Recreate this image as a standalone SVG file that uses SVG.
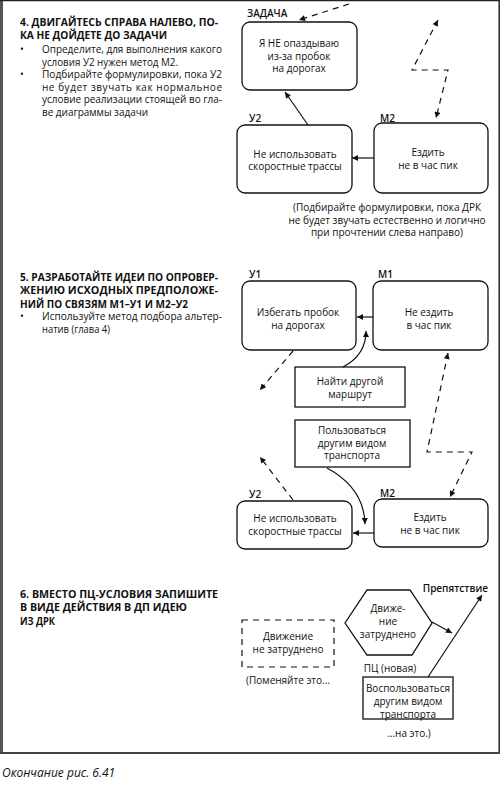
<svg xmlns="http://www.w3.org/2000/svg" width="500" height="786" viewBox="0 0 500 786">
<style>
.t{font-family:"Open Sans","Noto Sans","DejaVu Sans",sans-serif;font-size:10px;fill:#111}
.h{font-family:"Open Sans","Noto Sans","DejaVu Sans",sans-serif;font-size:10.8px;font-weight:bold;fill:#111}
.l{font-family:"Open Sans","Noto Sans","DejaVu Sans",sans-serif;font-size:10px;font-weight:600;fill:#111}
.c{text-anchor:middle}
.box{fill:#fff;stroke:#111;stroke-width:1.3}
.ln{fill:none;stroke:#111;stroke-width:1.2}
.ds{fill:none;stroke:#111;stroke-width:1.2;stroke-dasharray:6 5}
</style>
<defs>
<marker id="ah" viewBox="0 0 10 10" refX="10" refY="5" markerWidth="8" markerHeight="6" markerUnits="userSpaceOnUse" orient="auto-start-reverse">
<path d="M0,0 L10,5 L0,10 z" fill="#111"/>
</marker>
</defs>
<rect width="500" height="786" fill="#fff"/>
<g id="frame">
<rect x="0" y="0" width="3" height="754" fill="#555"/>
<line x1="0" y1="0.6" x2="500" y2="0.6" stroke="#222" stroke-width="1.2"/>
<line x1="499.2" y1="0" x2="499.2" y2="754" stroke="#333" stroke-width="1.6"/>
<line x1="0" y1="753" x2="500" y2="753" stroke="#444" stroke-width="2"/>
</g>
<g id="text4">
<text class="h" x="20" y="25.5" textLength="198" lengthAdjust="spacingAndGlyphs">4. ДВИГАЙТЕСЬ СПРАВА НАЛЕВО, ПО-</text>
<text class="h" x="20" y="39" textLength="147" lengthAdjust="spacingAndGlyphs">КА НЕ ДОЙДЕТЕ ДО ЗАДАЧИ</text>
<text class="t" x="20" y="53">•</text>
<text class="t" x="42" y="53" textLength="180" lengthAdjust="spacingAndGlyphs">Определите, для выполнения какого</text>
<text class="t" x="42" y="65.5" textLength="136" lengthAdjust="spacingAndGlyphs">условия У2 нужен метод М2.</text>
<text class="t" x="20" y="78">•</text>
<text class="t" x="42" y="78" textLength="180" lengthAdjust="spacingAndGlyphs">Подбирайте формулировки, пока У2</text>
<text class="t" x="42" y="90.5" textLength="180" lengthAdjust="spacing">не будет звучать как нормальное</text>
<text class="t" x="42" y="103" textLength="180" lengthAdjust="spacingAndGlyphs">условие реализации стоящей во гла-</text>
<text class="t" x="42" y="115.5" textLength="106" lengthAdjust="spacingAndGlyphs">ве диаграммы задачи</text>
</g>
<g id="n4-task">
<text class="l" x="247" y="17">ЗАДАЧА</text>
<rect class="box" x="242" y="22" width="115" height="68" rx="8"/>
<text class="t c" x="299" y="47">Я НЕ опаздываю</text>
<text class="t c" x="299" y="59.5">из-за пробок</text>
<text class="t c" x="299" y="72">на дорогах</text>
</g>
<g id="n4-y2">
<text class="l" x="249" y="122">У2</text>
<rect class="box" x="237" y="125" width="115" height="68" rx="8"/>
<text class="t c" x="295" y="157.5">Не использовать</text>
<text class="t c" x="295" y="170">скоростные трассы</text>
</g>
<g id="n4-m2">
<text class="l" x="380" y="122">М2</text>
<rect class="box" x="374" y="123" width="114" height="70" rx="8"/>
<text class="t c" x="428" y="156">Ездить</text>
<text class="t c" x="428" y="168.5">не в час пик</text>
</g>
<g id="cap4">
<text class="t c" x="387" y="211">(Подбирайте формулировки, пока ДРК</text>
<text class="t c" x="387" y="223.5">не будет звучать естественно и логично</text>
<text class="t c" x="387" y="236">при прочтении слева направо)</text>
</g>
<g id="text5">
<text class="h" x="20" y="280.5" textLength="198" lengthAdjust="spacingAndGlyphs">5. РАЗРАБОТАЙТЕ ИДЕИ ПО ОПРОВЕР-</text>
<text class="h" x="20" y="294" textLength="198" lengthAdjust="spacing">ЖЕНИЮ ИСХОДНЫХ ПРЕДПОЛОЖЕ-</text>
<text class="h" x="20" y="307.5" textLength="168" lengthAdjust="spacingAndGlyphs">НИЙ ПО СВЯЗЯМ М1–У1 И М2–У2</text>
<text class="t" x="20" y="320">•</text>
<text class="t" x="42" y="320" textLength="180" lengthAdjust="spacingAndGlyphs">Используйте метод подбора альтер-</text>
<text class="t" x="42" y="332.5" textLength="68" lengthAdjust="spacingAndGlyphs">натив (глава 4)</text>
</g>
<g id="n5-y1">
<text class="l" x="249" y="278">У1</text>
<rect class="box" x="242" y="281" width="114" height="69" rx="8"/>
<text class="t c" x="298" y="316">Избегать пробок</text>
<text class="t c" x="298" y="328.5">на дорогах</text>
</g>
<g id="n5-m1">
<text class="l" x="378" y="278">М1</text>
<rect class="box" x="373" y="281" width="115" height="69" rx="8"/>
<text class="t c" x="429" y="316">Не ездить</text>
<text class="t c" x="429" y="328.5">в час пик</text>
</g>
<g id="n5-route">
<rect class="box" x="295" y="367" width="110" height="40"/>
<text class="t c" x="350" y="385">Найти другой</text>
<text class="t c" x="350" y="398">маршрут</text>
</g>
<g id="n5-transport">
<rect class="box" x="295" y="420" width="115" height="47"/>
<text class="t c" x="352" y="434">Пользоваться</text>
<text class="t c" x="352" y="446.5">другим видом</text>
<text class="t c" x="352" y="459">транспорта</text>
</g>
<g id="n5-y2">
<text class="l" x="249" y="498">У2</text>
<rect class="box" x="237" y="501" width="115" height="48" rx="8"/>
<text class="t c" x="295" y="521.5">Не использовать</text>
<text class="t c" x="295" y="535">скоростные трассы</text>
</g>
<g id="n5-m2">
<text class="l" x="380" y="497">М2</text>
<rect class="box" x="374" y="499" width="114" height="48" rx="8"/>
<text class="t c" x="430" y="521">Ездить</text>
<text class="t c" x="430" y="533.5">не в час пик</text>
</g>
<g id="text6">
<text class="h" x="20" y="597.5" textLength="198" lengthAdjust="spacingAndGlyphs">6. ВМЕСТО ПЦ-УСЛОВИЯ ЗАПИШИТЕ</text>
<text class="h" x="20" y="611" textLength="167" lengthAdjust="spacingAndGlyphs">В ВИДЕ ДЕЙСТВИЯ В ДП ИДЕЮ</text>
<text class="h" x="20" y="624.5" textLength="35" lengthAdjust="spacingAndGlyphs">ИЗ ДРК</text>
</g>
<g id="n6-old">
<rect x="242" y="620" width="92" height="47" fill="none" stroke="#111" stroke-width="1.2" stroke-dasharray="6 5"/>
<text class="t c" x="288" y="639.5">Движение</text>
<text class="t c" x="288" y="653">не затруднено</text>
<text class="t c" x="288" y="683.5">(Поменяйте это...</text>
</g>
<g id="n6-hex">
<polygon class="box" points="345,623 367,590 410,590 432,623 412,655 367,655"/>
<text class="t c" x="388" y="612">Движе-</text>
<text class="t c" x="388" y="625">ние</text>
<text class="t c" x="388" y="637.5">затруднено</text>
<text class="t c" x="390" y="671.5">ПЦ (новая)</text>
</g>
<g id="n6-obst">
<text class="l" x="488" y="592" text-anchor="end">Препятствие</text>
</g>
<g id="n6-action">
<rect class="box" x="363" y="677" width="90" height="42"/>
<text class="t c" x="408" y="692">Воспользоваться</text>
<text class="t c" x="408" y="705">другим видом</text>
<text class="t c" x="408" y="717.5">транспорта</text>
<text class="t c" x="409" y="737">...на это.)</text>
</g>
<g id="connectors">
<path class="ds" d="M349,4 L299,20" marker-end="url(#ah)"/>
<path class="ds" d="M438,20 L412,70 L448,70 L436,118" marker-start="url(#ah)" marker-end="url(#ah)"/>
<path class="ln" d="M308,125 L285,92" marker-end="url(#ah)"/>
<path class="ln" d="M374,158 L352,158" marker-end="url(#ah)"/>
<path class="ln" d="M373,317 L357,317" marker-end="url(#ah)"/>
<path class="ln" d="M343,367 Q366,355 366,331" marker-end="url(#ah)"/>
<path class="ds" d="M293,351 L260,390" marker-end="url(#ah)"/>
<path class="ds" d="M448,353 L427,452 L472,452 L450,497" marker-start="url(#ah)" marker-end="url(#ah)"/>
<path class="ln" d="M327,468 Q364,488 365,524" marker-end="url(#ah)"/>
<path class="ds" d="M293,500 L260,457" marker-end="url(#ah)"/>
<path class="ln" d="M374,533 L353,533" marker-end="url(#ah)"/>
<path class="ln" d="M432,622 L452,633" marker-end="url(#ah)"/>
<path class="ln" d="M428,677 L482,595" marker-end="url(#ah)"/>
</g>
<text x="2" y="777" font-family="Open Sans, Noto Sans, sans-serif" font-size="12" font-style="italic" fill="#111">Окончание рис. 6.41</text>
</svg>
